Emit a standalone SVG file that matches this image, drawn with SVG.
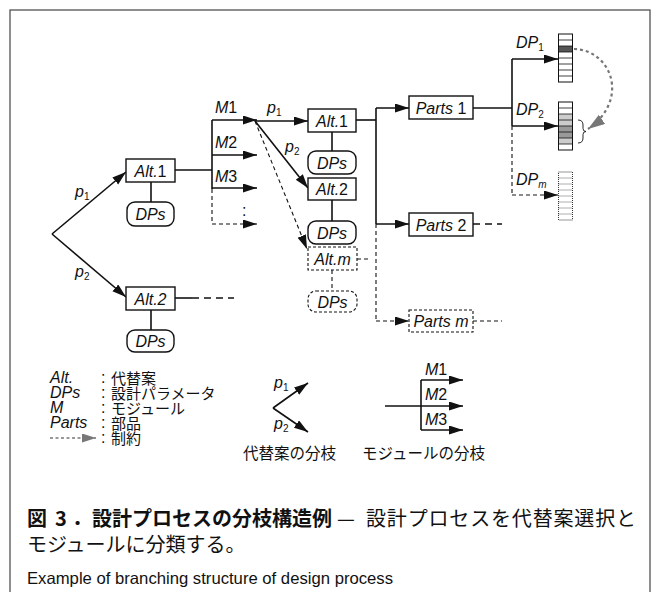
<svg xmlns="http://www.w3.org/2000/svg" width="661" height="592" viewBox="0 0 661 592">
<defs>
<style>
.t{font-family:"Liberation Sans",Arial,sans-serif;font-size:16px;fill:#111}
.i{font-style:italic}
.s{font-size:10px}
.jp{font-family:"Noto Sans CJK JP",sans-serif;font-size:15px;fill:#111}
.box{fill:#fff;stroke:#111;stroke-width:1.4}
.dbox{fill:#fff;stroke:#111;stroke-width:1.1;stroke-dasharray:3,2}
.ln{stroke:#111;stroke-width:1.6;fill:none}
.dl{stroke:#111;stroke-width:1.1;fill:none;stroke-dasharray:4,3}
.gl{stroke:#777;stroke-width:1.5;fill:none;stroke-dasharray:3,2.5}
.a{marker-end:url(#ah)}
.g{marker-end:url(#ahg)}
.row{stroke:#111;stroke-width:0.8}
.cap{font-family:"Noto Sans CJK JP",sans-serif;font-size:20px;fill:#111}
.b{font-weight:bold}
</style>
<marker id="ah" markerUnits="userSpaceOnUse" markerWidth="15" markerHeight="10" refX="14" refY="4.5" orient="auto"><path d="M0,0 L14,4.5 L0,9 z" fill="#111"/></marker>
<marker id="ahg" markerUnits="userSpaceOnUse" markerWidth="15" markerHeight="10" refX="14" refY="4.5" orient="auto"><path d="M0,0 L14,4.5 L0,9 z" fill="#777"/></marker>
<marker id="ahg2" markerUnits="userSpaceOnUse" markerWidth="18" markerHeight="12" refX="17" refY="5.5" orient="auto"><path d="M0,0 L17,5.5 L0,11 z" fill="#777"/></marker>
</defs>
<rect x="10" y="10" width="640" height="600" fill="#fff" stroke="#444" stroke-width="1.2"/>

<g id="connectors">
<line class="ln a" x1="52" y1="234" x2="126" y2="172"/>
<line class="ln a" x1="52" y1="234" x2="126" y2="297"/>
<line class="ln" x1="151" y1="182" x2="151" y2="202"/>
<line class="ln" x1="151" y1="310" x2="151" y2="330"/>
<line class="ln" x1="175" y1="170" x2="212" y2="170"/>
<line class="ln" x1="212" y1="120" x2="212" y2="189"/>
<line class="dl" x1="212" y1="189" x2="212" y2="224"/>
<line class="ln a" x1="212" y1="120" x2="257" y2="120"/>
<line class="ln a" x1="212" y1="155" x2="257" y2="155"/>
<line class="ln a" x1="212" y1="188" x2="257" y2="188"/>
<line class="dl a" x1="212" y1="224" x2="257" y2="224"/>
<line class="ln" x1="175" y1="298" x2="192" y2="298"/>
<line class="dl" x1="192" y1="298" x2="234" y2="298" style="stroke-width:1.5;stroke-dasharray:7,5"/>

<line class="ln a" x1="255" y1="121" x2="308" y2="121"/>
<line class="ln a" x1="255" y1="121" x2="308" y2="188"/>
<line class="dl a" x1="255" y1="121" x2="307" y2="249"/>
<line class="ln" x1="332" y1="132" x2="332" y2="151"/>
<line class="ln" x1="332" y1="200" x2="332" y2="221"/>
<line class="dl" x1="332" y1="270" x2="332" y2="291"/>
<line class="dl" x1="357" y1="259" x2="368" y2="259"/>
<line class="ln" x1="356" y1="120" x2="376" y2="120"/>
<line class="ln" x1="376" y1="108" x2="376" y2="224"/>
<line class="dl" x1="376" y1="224" x2="376" y2="321"/>
<line class="ln a" x1="376" y1="108" x2="409" y2="108"/>
<line class="ln a" x1="376" y1="224" x2="409" y2="224"/>
<line class="dl a" x1="376" y1="321" x2="409" y2="321"/>
<line class="dl" x1="473" y1="224" x2="502" y2="224" style="stroke-width:1.5;stroke-dasharray:7,5"/>
<line class="dl" x1="473" y1="321" x2="502" y2="321"/>

<line class="ln" x1="473" y1="108" x2="512" y2="108"/>
<line class="ln" x1="512" y1="59" x2="512" y2="126"/>
<line class="dl" x1="512" y1="126" x2="512" y2="195"/>
<line class="ln a" x1="512" y1="59" x2="558" y2="59"/>
<line class="ln a" x1="512" y1="126" x2="558" y2="126"/>
<line class="dl a" x1="512" y1="195" x2="558" y2="195" style="stroke:#666;stroke-width:1.5"/>
<path d="M574,49 C612,50 630,100 588,129" style="stroke:#777;stroke-width:2.2;fill:none;stroke-dasharray:3,3;marker-end:url(#ahg2)"/>
</g>

<g id="alt1-left">
<rect class="box" x="126" y="159" width="49" height="23"/>
<text class="t" x="150.5" y="176.5" text-anchor="middle"><tspan class="i">Alt.</tspan>1</text>
</g>
<g id="dps-alt1-left">
<rect class="box" x="127" y="202" width="47" height="24" rx="8"/>
<text class="t i" x="150.5" y="219.5" text-anchor="middle">DPs</text>
</g>
<g id="alt2-left">
<rect class="box" x="126" y="287" width="49" height="23"/>
<text class="t i" x="150.5" y="304.5" text-anchor="middle">Alt.2</text>
</g>
<g id="dps-alt2-left">
<rect class="box" x="127" y="330" width="47" height="22" rx="8"/>
<text class="t i" x="150.5" y="347" text-anchor="middle">DPs</text>
</g>
<g id="labels-left">
<text class="t" x="75" y="197"><tspan class="i">p</tspan><tspan class="s" dy="3">1</tspan></text>
<text class="t" x="75" y="277"><tspan class="i">p</tspan><tspan class="s" dy="3">2</tspan></text>
<text class="t" x="215" y="113"><tspan class="i">M</tspan>1</text>
<text class="t" x="215" y="148"><tspan class="i">M</tspan>2</text>
<text class="t" x="215" y="182"><tspan class="i">M</tspan>3</text>
<text class="t" x="242" y="216">:</text>
</g>

<g id="alt1-mid">
<rect class="box" x="308" y="109" width="48" height="23"/>
<text class="t" x="332" y="126.5" text-anchor="middle"><tspan class="i">Alt.</tspan>1</text>
</g>
<g id="dps-alt1-mid">
<rect class="box" x="308" y="151" width="48" height="23" rx="8"/>
<text class="t i" x="332" y="168.5" text-anchor="middle">DPs</text>
</g>
<g id="alt2-mid">
<rect class="box" x="308" y="178" width="48" height="22"/>
<text class="t" x="332" y="195" text-anchor="middle"><tspan class="i">Alt.</tspan>2</text>
</g>
<g id="dps-alt2-mid">
<rect class="box" x="308" y="221" width="48" height="23" rx="8"/>
<text class="t i" x="332" y="238.5" text-anchor="middle">DPs</text>
</g>
<g id="altm-mid">
<rect class="dbox" x="308" y="247" width="49" height="23"/>
<text class="t i" x="332.5" y="264.5" text-anchor="middle">Alt.m</text>
</g>
<g id="dps-altm-mid">
<rect class="dbox" x="308" y="291" width="49" height="21" rx="8"/>
<text class="t i" x="332.5" y="307.5" text-anchor="middle">DPs</text>
</g>
<g id="labels-mid">
<text class="t" x="267" y="113"><tspan class="i">p</tspan><tspan class="s" dy="3">1</tspan></text>
<text class="t" x="285" y="152"><tspan class="i">p</tspan><tspan class="s" dy="3">2</tspan></text>
</g>

<g id="parts1">
<rect class="box" x="409" y="96" width="64" height="23"/>
<text class="t" x="441" y="113.5" text-anchor="middle"><tspan class="i">Parts</tspan> 1</text>
</g>
<g id="parts2">
<rect class="box" x="409" y="213" width="64" height="23"/>
<text class="t" x="441" y="230.5" text-anchor="middle"><tspan class="i">Parts</tspan> 2</text>
</g>
<g id="partsm">
<rect class="dbox" x="409" y="310" width="64" height="22"/>
<text class="t i" x="441" y="327" text-anchor="middle">Parts m</text>
</g>

<g id="dp1-stack">
<rect x="558.5" y="46" width="14" height="6" fill="#555"/>
<rect x="558.5" y="34" width="14" height="48" fill="none" stroke="#111" stroke-width="1"/>
<path class="row" d="M558.5,40h14M558.5,46h14M558.5,52h14M558.5,58h14M558.5,64h14M558.5,70h14M558.5,76h14"/>
</g>
<g id="dp2-stack">
<rect x="558.5" y="114" width="14" height="12" fill="#ccc"/>
<rect x="558.5" y="126" width="14" height="12" fill="#999"/>
<rect x="558.5" y="138" width="14" height="6" fill="#ccc"/>
<rect x="558.5" y="102" width="14" height="48" fill="none" stroke="#111" stroke-width="1"/>
<path class="row" d="M558.5,108h14M558.5,114h14M558.5,120h14M558.5,126h14M558.5,132h14M558.5,138h14M558.5,144h14"/>
<path d="M578,120 Q583,120 583,125 L583,128.5 Q583,131.5 586,131.5 Q583,131.5 583,134.5 L583,138 Q583,143 578,143" fill="none" stroke="#111" stroke-width="0.9"/>
</g>
<g id="dpm-stack">
<rect x="558.5" y="172" width="14" height="48" fill="none" stroke="#333" stroke-width="1" stroke-dasharray="1,1"/>
<path d="M558.5,178h14M558.5,184h14M558.5,190h14M558.5,196h14M558.5,202h14M558.5,208h14M558.5,214h14" stroke="#333" stroke-width="0.8" stroke-dasharray="1,1"/>
</g>
<g id="labels-right">
<text class="t" x="516" y="48"><tspan class="i">DP</tspan><tspan class="s" dy="3">1</tspan></text>
<text class="t" x="516" y="115"><tspan class="i">DP</tspan><tspan class="s" dy="3">2</tspan></text>
<text class="t" x="516" y="185"><tspan class="i">DP</tspan><tspan class="s i" dy="3">m</tspan></text>
</g>

<g id="legend">
<text class="t i" x="50" y="383">Alt.</text>
<text class="t i" x="50" y="398">DPs</text>
<text class="t i" x="50" y="413">M</text>
<text class="t i" x="50" y="428">Parts</text>
<line class="gl g" x1="50" y1="438" x2="96" y2="438"/>
<text class="t" x="101" y="383">:</text>
<text class="t" x="101" y="398">:</text>
<text class="t" x="101" y="413">:</text>
<text class="t" x="101" y="428">:</text>
<text class="t" x="101" y="443">:</text>
<text class="jp" x="111" y="384">代替案</text>
<text class="jp" x="111" y="399">設計パラメータ</text>
<text class="jp" x="111" y="414">モジュール</text>
<text class="jp" x="111" y="429">部品</text>
<text class="jp" x="111" y="444">制約</text>
</g>
<g id="legend-alt-branch">
<line class="ln a" x1="273" y1="408" x2="308" y2="383"/>
<line class="ln a" x1="273" y1="408" x2="308" y2="432"/>
<text class="t" x="274" y="388"><tspan class="i">p</tspan><tspan class="s" dy="3">1</tspan></text>
<text class="t" x="274" y="429"><tspan class="i">p</tspan><tspan class="s" dy="3">2</tspan></text>
<text class="jp" x="243" y="459" style="font-size:15.5px">代替案の分枝</text>
</g>
<g id="legend-module-branch">
<line class="ln a" x1="385" y1="406" x2="463" y2="406"/>
<line class="ln" x1="421" y1="380" x2="421" y2="430"/>
<line class="ln a" x1="421" y1="380" x2="463" y2="380"/>
<line class="ln a" x1="421" y1="430" x2="463" y2="430"/>
<text class="t" x="425" y="375"><tspan class="i">M</tspan>1</text>
<text class="t" x="425" y="400"><tspan class="i">M</tspan>2</text>
<text class="t" x="425" y="425"><tspan class="i">M</tspan>3</text>
<text class="jp" x="362" y="459" style="font-size:15.5px">モジュールの分枝</text>
</g>

<g id="caption">
<text class="cap b" x="27" y="526">図</text>
<text class="cap b" x="55" y="526">3</text>
<text class="cap b" x="72" y="526" textLength="260" lengthAdjust="spacing">．設計プロセスの分枝構造例</text>
<text class="cap" x="337" y="526">—</text>
<text class="cap" x="366" y="526" textLength="270" lengthAdjust="spacing">設計プロセスを代替案選択と</text>
<text class="cap" x="27" y="552">モジュールに分類する。</text>
<text x="27" y="584" style="font-family:'Liberation Sans',Arial,sans-serif;font-size:16.5px;fill:#111" textLength="366" lengthAdjust="spacingAndGlyphs">Example of branching structure of design process</text>
</g>
</svg>
